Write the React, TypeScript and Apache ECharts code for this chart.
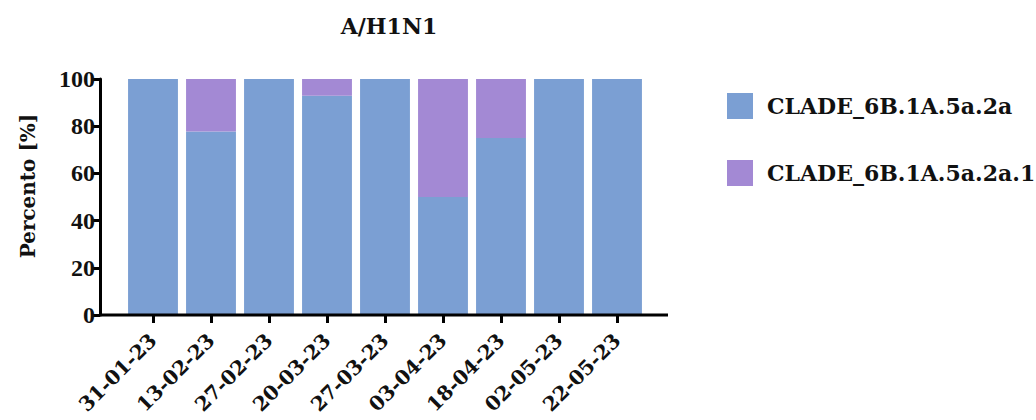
import React, { useEffect, useRef } from "react";
import * as echarts from "echarts";

const categories = ["31-01-23", "13-02-23", "27-02-23", "20-03-23", "27-03-23", "03-04-23", "18-04-23", "02-05-23", "22-05-23"];
const clade2a = [100, 77.8, 100, 92.9, 100, 50, 75, 100, 100];
const clade2a1 = [0, 22.2, 0, 7.1, 0, 50, 25, 0, 0];
const yTicks = [0, 20, 40, 60, 80, 100];
const seriesNames = ["CLADE_6B.1A.5a.2a", "CLADE_6B.1A.5a.2a.1"];
const colors = ["#7B9FD3", "#A389D4"];
const titleText = "A/H1N1";
const yAxisTitle = "Percento [%]";

const SERIF_WIDE = "'DejaVu Serif', serif";
const SERIF = "'Liberation Serif', serif";

export default function App() {
  const ref = useRef<HTMLDivElement>(null);
  useEffect(() => {
    const chart = echarts.init(ref.current!, null, { renderer: "svg" });
    const gridLeft = 124, gridRight = 390, gridTop = 79, gridBottom = 105;
    chart.setOption({
      animation: false,
      title: {
        text: titleText,
        left: 384,
        top: 10,
        textAlign: "center",
        textStyle: { fontFamily: SERIF_WIDE, fontWeight: "bold", fontSize: 22, color: "#111" },
      },
      legend: {
        orient: "vertical",
        left: 722,
        top: 88,
        itemWidth: 26,
        itemHeight: 26,
        itemGap: 41,
        icon: "rect",
        data: seriesNames,
        textStyle: { fontFamily: SERIF_WIDE, fontWeight: "bold", fontSize: 22, color: "#111", padding: [0, 0, 0, 9] },
      },
      grid: { left: gridLeft, right: gridRight, top: gridTop, bottom: gridBottom, containLabel: false },
      xAxis: {
        type: "category",
        data: categories,
        axisLine: { show: false },
        axisTick: { show: true, alignWithLabel: true, length: 8, lineStyle: { color: "#000", width: 3 } },
        axisLabel: {
          rotate: 45,
          interval: 0,
          margin: 22,
          fontFamily: SERIF_WIDE,
          fontWeight: "bold",
          fontSize: 20,
          color: "#111",
        },
      },
      yAxis: {
        type: "value",
        min: 0,
        max: 100,
        interval: 20,
        offset: 24,
        axisLine: { show: true, lineStyle: { color: "#000", width: 3 } },
        axisTick: { show: true, length: 7, lineStyle: { color: "#000", width: 3 } },
        splitLine: { show: false },
        axisLabel: {
          fontFamily: SERIF,
          fontWeight: "bold",
          fontSize: 24,
          color: "#111",
          margin: 5,
          formatter: (v: number) => (yTicks.includes(v) ? String(v) : ""),
        },
      },
      graphic: [
        {
          type: "line",
          shape: { x1: 99, y1: 420 - gridBottom, x2: 668, y2: 420 - gridBottom },
          style: { stroke: "#000", lineWidth: 3 },
          z: 10,
        },
        {
          type: "text",
          x: 28,
          y: 186,
          rotation: Math.PI / 2,
          style: {
            text: yAxisTitle,
            fontFamily: SERIF_WIDE,
            fontWeight: "bold",
            fontSize: 20,
            fill: "#111",
            align: "center",
            verticalAlign: "middle",
          },
        },
      ],
      series: [
        {
          name: seriesNames[0],
          type: "bar",
          stack: "total",
          data: clade2a,
          barCategoryGap: "14%",
          itemStyle: { color: colors[0] },
        },
        {
          name: seriesNames[1],
          type: "bar",
          stack: "total",
          data: clade2a1,
          barCategoryGap: "14%",
          itemStyle: { color: colors[1] },
        },
      ],
    });
    return () => chart.dispose();
  }, []);
  return (
    <div
      ref={ref}
      style={{ position: "fixed", left: 0, top: 0, width: 1036, height: 420, background: "#fff" }}
    />
  );
}
